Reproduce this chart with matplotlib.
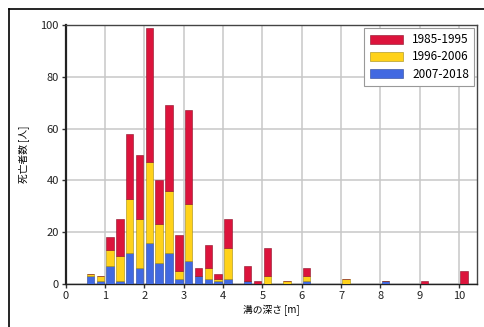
import matplotlib.pyplot as plt
from matplotlib.lines import Line2D
import numpy as np

plt.rcParams['font.family'] = ['Noto Sans CJK JP', 'DejaVu Sans']

# 溝の深さ（0.25 m 刻みの階級の中央値）
depth = [0.625, 0.875, 1.125, 1.375, 1.625, 1.875, 2.125, 2.375, 2.625, 2.875,
         3.125, 3.375, 3.625, 3.875, 4.125, 4.625, 4.875, 5.125, 5.625, 6.125,
         7.125, 8.125, 9.125, 10.125]
# 期間ごとの死亡者数
p2007_2018 = [3, 1, 7, 1, 12, 6, 16, 8, 12, 2, 9, 3, 2, 1, 2, 1, 0, 0, 0, 1, 0, 1, 0, 0]
p1996_2006 = [1, 2, 6, 10, 21, 19, 31, 15, 24, 3, 22, 0, 4, 1, 12, 0, 0, 3, 1, 2, 2, 0, 0, 0]
p1985_1995 = [0, 0, 5, 14, 25, 25, 52, 17, 33, 14, 36, 3, 9, 2, 11, 6, 1, 11, 0, 3, 0, 0, 1, 5]

labels = ['1985-1995', '1996-2006', '2007-2018']
colors = ['#dc143c', '#ffd21a', '#4169e1']
edges = ['#8a1028', '#a08a10', '#2a4494']

fig = plt.figure(figsize=(4.84, 3.27), dpi=100)
ax = fig.add_axes([0.136, 0.1315, 0.850, 0.792])

b = np.array(p2007_2018)
y = np.array(p1996_2006)
r = np.array(p1985_1995)
w = 0.19
h_blue = ax.bar(depth, b, width=w, color=colors[2], edgecolor=edges[2], linewidth=0.4, zorder=3)
h_yel = ax.bar(depth, y, width=w, bottom=b, color=colors[1], edgecolor=edges[1], linewidth=0.4, zorder=3)
h_red = ax.bar(depth, r, width=w, bottom=b + y, color=colors[0], edgecolor=edges[0], linewidth=0.4, zorder=3)

ax.set_xlim(0, 10.46)
ax.set_ylim(0, 100)
ax.set_xticks(range(0, 11))
ax.set_yticks(range(0, 101, 20))
ax.grid(color='#c8c8c8', linewidth=1.1, zorder=0)
ax.tick_params(labelsize=8, length=3, width=1, color='#333333', labelcolor='#222222', pad=2)

for s in ax.spines.values():
    s.set_color('#444444')
    s.set_linewidth(1.0)
ax.spines['left'].set_linewidth(1.6)
ax.spines['left'].set_color('#222222')
ax.spines['bottom'].set_color('#222222')

ax.set_ylabel('死亡者数 [人]', fontsize=7, labelpad=8)
ax.set_xlabel('溝の深さ [m]', fontsize=7, labelpad=3)

leg = ax.legend([h_red, h_yel, h_blue], labels, loc='upper right', fontsize=8.5,
                handlelength=2.8, handleheight=0.8, fancybox=False, framealpha=1,
                edgecolor='#999999', borderaxespad=0.25, labelspacing=0.35,
                borderpad=0.45)
leg.get_frame().set_linewidth(0.8)

# 外枠
fig.add_artist(Line2D([9 / 484, 9 / 484], [0, 1 - 9 / 327], color='black', linewidth=1.2))
fig.add_artist(Line2D([9 / 484, 1], [1 - 9 / 327, 1 - 9 / 327], color='black', linewidth=1.2))

fig.savefig('out.png', dpi=100)
